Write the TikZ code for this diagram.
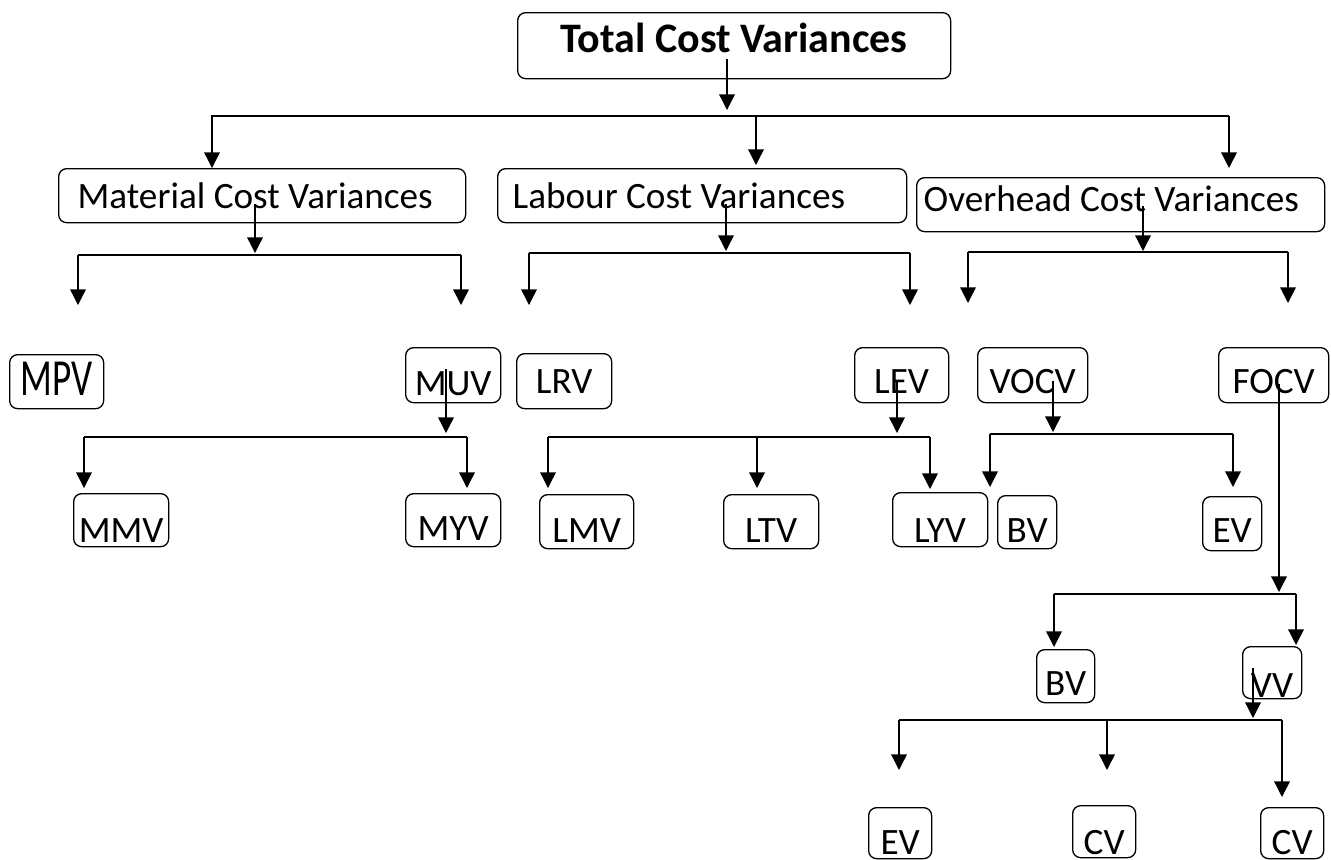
\documentclass[tikz,border=0pt]{standalone}
\usepackage{fontspec}
\usepackage{graphicx}
\setmainfont{Carlito}
\usetikzlibrary{arrows.meta}
\tikzset{
  vbox/.style={draw, rounded corners=4pt, anchor=north west, inner sep=0pt,
    text depth=0pt, font=\fontsize{18.6}{22}\selectfont},
  wbox/.style={vbox, align=flush left},
}
\begin{document}
\begin{tikzpicture}[x=0.5pt, y=-0.5pt, line width=0.65pt, >={Triangle[length=7.8pt,width=7.8pt]}]
\useasboundingbox (0,0) rectangle (1331,859);
% boxes
\node[vbox, minimum width=216.5pt, minimum height=33pt, text height=7pt,
  font=\fontsize{21}{25}\selectfont\bfseries] (total) at (517,12) {Total Cost Variances};
\node[wbox, inner xsep=9.5pt, text width=184.5pt, minimum height=27pt, text height=13pt] (mat) at (58,168) {Material Cost Variances};
\node[wbox, inner xsep=7.5pt, text width=189.5pt, minimum height=27pt, text height=13pt] (lab) at (497,168) {Labour Cost Variances};
\node[wbox, inner xsep=3.5pt, text width=197pt, minimum height=27pt, text height=7pt] (ovh) at (916,177) {Overhead Cost Variances};
\node[vbox, minimum width=47pt, minimum height=27pt, text height=14pt] (mpv) at (9,354) {\scalebox{1}[1.4]{MPV}};
\node[vbox, minimum width=47.5pt, minimum height=27.5pt, text height=20.5pt] (muv) at (405,347) {MUV};
\node[vbox, minimum width=47.5pt, minimum height=27.5pt, text height=12.5pt] (lrv) at (516,353) {LRV};
\node[vbox, minimum width=47pt, minimum height=27.5pt, text height=18.5pt] (lev) at (854,347) {LEV};
\node[vbox, minimum width=55pt, minimum height=27.5pt, text height=18.5pt] (vocv) at (977,347) {VOCV};
\node[vbox, minimum width=55pt, minimum height=27.5pt, text height=18.5pt] (focv) at (1218,347) {FOCV};
\node[vbox, minimum width=47.5pt, minimum height=26.5pt, text height=22.5pt] (mmv) at (73,493) {MMV};
\node[vbox, minimum width=47.5pt, minimum height=26.5pt, text height=20.5pt] (myv) at (405,493) {MYV};
\node[vbox, minimum width=47pt, minimum height=27pt, text height=21pt] (lmv) at (539,494) {LMV};
\node[vbox, minimum width=47.5pt, minimum height=27pt, text height=21pt] (ltv) at (723,494) {LTV};
\node[vbox, minimum width=47.5pt, minimum height=27pt, text height=23pt] (lyv) at (892,492) {LYV};
\node[vbox, minimum width=29.5pt, minimum height=26.5pt, text height=20.5pt] (vbv) at (997,495) {BV};
\node[vbox, minimum width=29.5pt, minimum height=27pt, text height=19pt] (vev) at (1202,496) {EV};
\node[vbox, minimum width=29pt, minimum height=26.5pt, text height=19.5pt] (fbv) at (1036,649) {BV};
\node[vbox, minimum width=29.5pt, minimum height=26pt, text height=25pt] (fvv) at (1242,646) {VV};
\node[vbox, minimum width=31.5pt, minimum height=25.5pt, text height=21.5pt] (fev) at (868,807) {EV};
\node[vbox, minimum width=31.5pt, minimum height=26pt, text height=23pt] (fcv) at (1072,805) {CV};
\node[vbox, minimum width=31.5pt, minimum height=25.5pt, text height=21.5pt] (fcv2) at (1260,807) {CV};
% total
\coordinate (t-tip) at (727,110);
\coordinate (t-l) at (212,116);
\coordinate (t-m) at (756,116);
\coordinate (t-r) at (1229,116);
\draw[->] (t-tip |- total.south) ++(0,-20) -- (t-tip);
\draw[->] (t-r) -- (t-l) -- ++(0,52);
\draw[->] (t-m) -- ++(0,49);
\draw[->] (t-r) -- ++(0,52);
% material
\coordinate (m-tip) at (255,253);
\coordinate (m-l) at (78,255);
\coordinate (m-r) at (461,255);
\draw[->] (m-tip |- mat.south) ++(0,-19) -- (m-tip);
\draw (m-l) -- (m-r);
\draw[->] (m-l) -- ++(0,50);
\draw[->] (m-r) -- ++(0,50);
% labour
\coordinate (l-tip) at (726,251);
\coordinate (l-l) at (529,253);
\coordinate (l-r) at (910,253);
\draw[->] (l-tip |- lab.south) ++(0,-19) -- (l-tip);
\draw (l-l) -- (l-r);
\draw[->] (l-l) -- ++(0,52);
\draw[->] (l-r) -- ++(0,52);
% overhead
\coordinate (o-tip) at (1143,251);
\coordinate (o-l) at (968,252);
\coordinate (o-r) at (1288,252);
\draw[->] (o-tip |- ovh.south) ++(0,-26) -- (o-tip);
\draw (o-l) -- (o-r);
\draw[->] (o-l) -- ++(0,51);
\draw[->] (o-r) -- ++(0,51);
% usage
\coordinate (u-tip) at (446,433);
\coordinate (u-l) at (84,437);
\coordinate (u-r) at (467,437);
\draw[->] (u-tip |- muv.south) ++(0,-34) -- (u-tip);
\draw (u-l) -- (u-r);
\draw[->] (u-l) -- ++(0,51);
\draw[->] (u-r) -- ++(0,51);
% efficiency
\coordinate (e-tip) at (897,433);
\coordinate (e-l) at (548,437);
\coordinate (e-m) at (757,437);
\coordinate (e-r) at (930,437);
\draw[->] (e-tip |- lev.south) ++(0,-22) -- (e-tip);
\draw (e-l) -- (e-r);
\draw[->] (e-l) -- ++(0,51);
\draw[->] (e-m) -- ++(0,51);
\draw[->] (e-r) -- ++(0,52);
% variable overhead
\coordinate (v-tip) at (1053,432);
\coordinate (v-l) at (990,434);
\coordinate (v-r) at (1233,434);
\draw[->] (v-tip |- vocv.south) ++(0,-22) -- (v-tip);
\draw (v-l) -- (v-r);
\draw[->] (v-l) -- ++(0,53);
\draw[->] (v-r) -- ++(0,53);
% fixed overhead
\coordinate (f-tip) at (1279,592);
\coordinate (f-l) at (1054,594);
\coordinate (f-r) at (1296,594);
\draw[->] (f-tip |- focv.south) ++(0,-19) -- (f-tip);
\draw (f-l) -- (f-r);
\draw[->] (f-l) -- ++(0,53);
\draw[->] (f-r) -- ++(0,51);
% volume
\coordinate (w-tip) at (1253,718);
\coordinate (w-l) at (899,720);
\coordinate (w-m) at (1107,720);
\coordinate (w-r) at (1282,720);
\draw[->] (w-tip |- fvv.south) ++(0,-31) -- (w-tip);
\draw (w-l) -- (w-r);
\draw[->] (w-l) -- ++(0,50);
\draw[->] (w-m) -- ++(0,50);
\draw[->] (w-r) -- ++(0,77);
\end{tikzpicture}
\end{document}
